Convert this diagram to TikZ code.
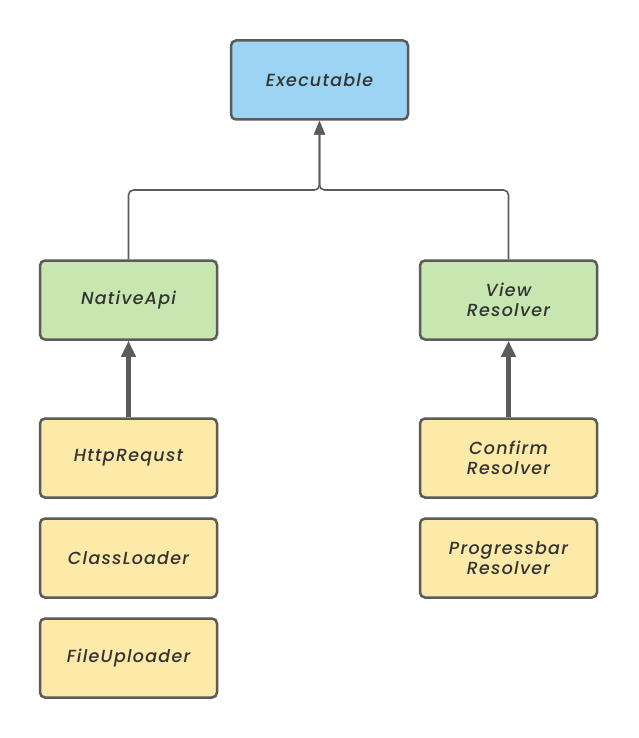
\documentclass[tikz,border=0pt]{standalone}
\usepackage{fontspec}
\newfontfamily\labelfont{Poppins Medium}[LetterSpace=7]
\usepackage{tikz}
\usetikzlibrary{arrows.meta,positioning}
\definecolor{edge}{HTML}{5B5B5B}
\definecolor{ink}{HTML}{333333}
\definecolor{blueish}{HTML}{9DD3F3}
\definecolor{greenish}{HTML}{C7E6B0}
\definecolor{yellowish}{HTML}{FDE9A8}
\tikzset{
  unit/.style={
      rectangle,
      rounded corners=5pt,
      minimum width=177pt,
      minimum height=79pt,
      line width=2.5pt,
      draw=edge,
      text=ink,
      align=center,
      font=\labelfont\fontsize{17.5}{20}\selectfont\itshape
  },
  root/.style={unit,fill=blueish},
  group/.style={unit,fill=greenish},
  member/.style={unit,fill=yellowish},
  link/.style={line width=1.6pt,draw=edge,rounded corners=5pt,-{Triangle[width=11pt,length=14pt]}},
  owns/.style={line width=4.5pt,draw=edge,-{Triangle[width=14pt,length=16pt]}}
}
\begin{document}
\begin{tikzpicture}[x=1pt,y=-1pt,node distance=18.5pt]
    \useasboundingbox (0,0) rectangle (638,738);
    \node[root] (exec) at (319.5,80) {Executable};
    \node[group] (native) at (128.5,300) {NativeApi};
    \node[group] (view) at (508.5,300) {View\\Resolver};
    \node[member] (http) at (128.5,458) {HttpRequst};
    \node[member,below=of http] (loader) {ClassLoader};
    \node[member,below=of loader] (upload) {FileUploader};
    \node[member] (confirm) at (508.5,458) {Confirm\\Resolver};
    \node[member,below=of confirm] (progress) {Progressbar\\Resolver};
    \coordinate (join) at (319.5,190);
    \draw[link] (native.north) |- (join) -- (exec.south);
    \draw[link] (view.north) |- (join) -- (exec.south);
    \draw[owns] (http) -- (native);
    \draw[owns] (confirm) -- (view);
\end{tikzpicture}
\end{document}
